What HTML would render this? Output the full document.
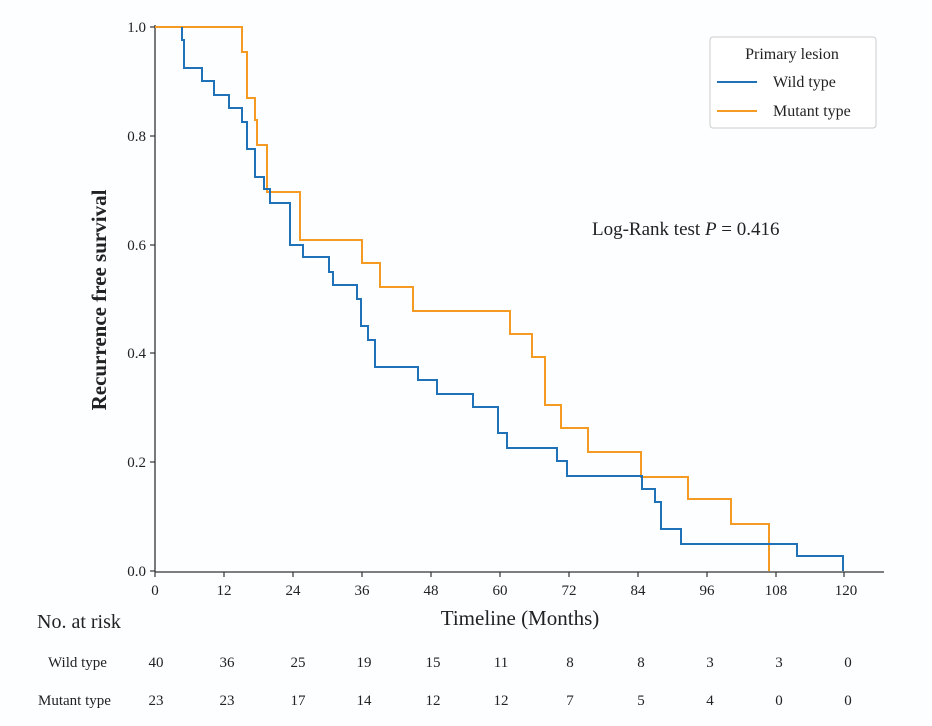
<!DOCTYPE html>
<html><head><meta charset="utf-8"><style>
html,body{margin:0;padding:0;background:#fff;}
svg{display:block;font-family:"Liberation Serif",serif;}
</style></head><body>
<svg width="932" height="726" viewBox="0 0 932 726" xmlns="http://www.w3.org/2000/svg">
<rect width="932" height="726" fill="#fdfeff"/>
<!-- axes -->
<line x1="155" y1="25" x2="155" y2="572" stroke="#333" stroke-width="1.3"/>
<line x1="155" y1="572" x2="884" y2="572" stroke="#333" stroke-width="1.3"/>
<g stroke="#333" stroke-width="1.2">
<line x1="150" y1="27" x2="155" y2="27"/><line x1="150" y1="136" x2="155" y2="136"/>
<line x1="150" y1="245" x2="155" y2="245"/><line x1="150" y1="353" x2="155" y2="353"/>
<line x1="150" y1="462" x2="155" y2="462"/><line x1="150" y1="571" x2="155" y2="571"/>
<line x1="155" y1="572" x2="155" y2="577"/><line x1="224" y1="572" x2="224" y2="577"/>
<line x1="293" y1="572" x2="293" y2="577"/><line x1="362" y1="572" x2="362" y2="577"/>
<line x1="431" y1="572" x2="431" y2="577"/><line x1="500" y1="572" x2="500" y2="577"/>
<line x1="569" y1="572" x2="569" y2="577"/><line x1="638" y1="572" x2="638" y2="577"/>
<line x1="707" y1="572" x2="707" y2="577"/><line x1="776" y1="572" x2="776" y2="577"/>
<line x1="844" y1="572" x2="844" y2="577"/>
</g>
<g font-size="15" fill="#222" text-anchor="end">
<text x="146" y="32">1.0</text><text x="146" y="141">0.8</text><text x="146" y="250">0.6</text>
<text x="146" y="358">0.4</text><text x="146" y="467">0.2</text><text x="146" y="576">0.0</text>
</g>
<g font-size="15" fill="#222" text-anchor="middle">
<text x="155" y="595">0</text><text x="224" y="595">12</text><text x="293" y="595">24</text>
<text x="362" y="595">36</text><text x="431" y="595">48</text><text x="500" y="595">60</text>
<text x="569" y="595">72</text><text x="638" y="595">84</text><text x="707" y="595">96</text>
<text x="776" y="595">108</text><text x="846" y="595">120</text>
</g>
<text x="520" y="625" font-size="21" text-anchor="middle" fill="#222">Timeline (Months)</text>
<text transform="translate(106,300) rotate(-90)" font-size="21" font-weight="bold" text-anchor="middle" fill="#222">Recurrence free survival</text>
<text x="592" y="235" font-size="19" fill="#222">Log-Rank test <tspan font-style="italic">P</tspan> = 0.416</text>
<!-- curves -->
<path fill="none" stroke="#f59a23" stroke-width="2" d="M155,27 H242 V52 H247 V98 H255 V120 H257 V145 H267 V192 H300 V240 H362 V263 H380 V287 H413 V311 H510 V334 H532 V357 H545 V405 H561 V428 H588 V452 H641 V477 H688 V499 H731 V524 H769 V571"/>
<path fill="none" stroke="#1f72b8" stroke-width="2" d="M182,27 V40 H184 V68 H202 V81 H214 V95 H229 V108 H242 V122 H247 V149 H255 V177 H264 V189 H270 V203 H290 V245 H303 V257 H329 V272 H333 V285 H357 V299 H361 V326 H368 V340 H375 V367 H418 V380 H437 V394 H473 V407 H498 V433 H507 V448 H557 V461 H567 V476 H642 V489 H655 V502 H661 V529 H681 V544 H797 V556 H843 V571"/>
<!-- legend -->
<rect x="710" y="37" width="166" height="91" fill="#fff" stroke="#ccc" stroke-width="1" rx="3"/>
<text x="792" y="59" font-size="16" text-anchor="middle" fill="#222">Primary lesion</text>
<line x1="717" y1="82" x2="757" y2="82" stroke="#1f72b8" stroke-width="2"/>
<text x="773" y="87" font-size="16" fill="#222">Wild type</text>
<line x1="717" y1="111" x2="757" y2="111" stroke="#f59a23" stroke-width="2"/>
<text x="773" y="116" font-size="16" fill="#222">Mutant type</text>
<!-- risk table -->
<text x="37" y="628" font-size="20" fill="#222">No. at risk</text>
<g font-size="15" fill="#222">
<text x="48" y="667">Wild type</text>
<text x="38" y="705">Mutant type</text>
</g>
<g font-size="15" fill="#222" text-anchor="middle">
<text x="156" y="667">40</text><text x="227" y="667">36</text><text x="298" y="667">25</text><text x="364" y="667">19</text><text x="433" y="667">15</text><text x="501" y="667">11</text><text x="570" y="667">8</text><text x="641" y="667">8</text><text x="710" y="667">3</text><text x="779" y="667">3</text><text x="848" y="667">0</text>
<text x="156" y="705">23</text><text x="227" y="705">23</text><text x="298" y="705">17</text><text x="364" y="705">14</text><text x="433" y="705">12</text><text x="501" y="705">12</text><text x="570" y="705">7</text><text x="641" y="705">5</text><text x="710" y="705">4</text><text x="779" y="705">0</text><text x="848" y="705">0</text>
</g>
</svg>
</body></html>
